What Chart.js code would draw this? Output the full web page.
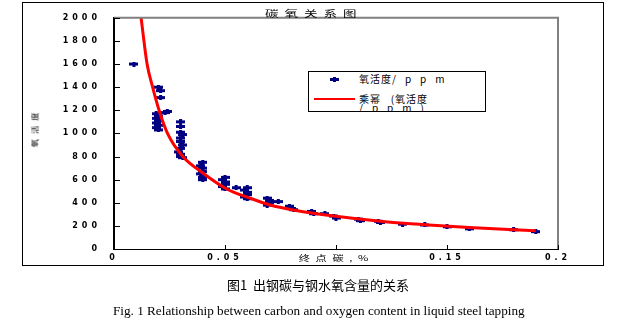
<!DOCTYPE html>
<html>
<head>
<meta charset="utf-8">
<script src="https://cdn.jsdelivr.net/npm/chart.js@4/dist/chart.umd.min.js"></script>
<style>
  html, body { margin: 0; padding: 0; background: #fff; }
  body { width: 642px; height: 321px; position: relative; overflow: hidden; }
  #frame { position: absolute; left: 22px; top: 2px; width: 580px; height: 262px; border: 1px solid #000; }
  #chart { position: absolute; left: 0; top: 0; }
  .txt { position: absolute; white-space: pre; color: #000; font-family: "Noto Sans CJK SC", sans-serif; line-height: 1; }
  #title { left: 265px; top: 9px; font-size: 9px; letter-spacing: 4px; transform: scaleX(1.5); transform-origin: left center; }
  #xtitle { left: 296px; top: 253px; padding: 1px 2px; background: #fff; font-size: 8px; letter-spacing: 4px; transform: scaleX(1.4); transform-origin: left center; }
  #ytitle { left: 17px; top: 124px; font-size: 7px; letter-spacing: 4px; transform: rotate(-90deg) scaleX(1.2); transform-origin: center center; width: 36px; text-align: center; }
  #legend { position: absolute; left: 308px; top: 71px; width: 176px; height: 39px; border: 1px solid #000; background: #fff; overflow: hidden; }
  #legend .lt { position: absolute; font-family: "Noto Sans CJK SC", sans-serif; font-size: 10px; line-height: 1; white-space: pre; }
  .lat { letter-spacing: 9px; }
  .cjk { letter-spacing: 1px; }
  #cap1 { left: 227px; top: 278px; font-size: 13px; }
  #cap2 { left: 113px; top: 304px; font-size: 13.2px; font-family: "Liberation Serif", "Times New Roman", serif; }
</style>
</head>
<body>
<div id="frame"></div>
<canvas id="chart" width="642" height="321"></canvas>
<div class="txt" id="title">碳氧关系图</div>
<div class="txt" id="xtitle">终点碳,%</div>
<div class="txt" id="ytitle">氧活度</div>
<div id="legend">
  <div style="position:absolute;left:21px;top:6px;width:9px;height:3px;background:#000080"></div>
  <div style="position:absolute;left:24px;top:5px;width:3px;height:5px;background:#000080"></div>
  <div class="lt" style="left:50px;top:2px"><span class="cjk">氧活度</span><span class="lat">/ppm</span></div>
  <div style="position:absolute;left:5px;top:26px;width:41px;height:2px;background:#ff0000"></div>
  <div class="lt" style="left:50px;top:22px"><span class="cjk">乘幂   (氧活度</span></div>
  <div class="lt" style="left:50px;top:31px"><span class="lat">/ppm)</span></div>
</div>
<div class="txt" id="cap1">图1  出钢碳与钢水氧含量的关系</div>
<div class="txt" id="cap2">Fig. 1 Relationship between carbon and oxygen content in liquid steel tapping</div>
<script>
// 终点碳 (%) 与 氧活度 (ppm) 的实测点
const sampleCarbon = [
    0.009,
    0.020, 0.021, 0.021, 0.019, 0.020, 0.019, 0.020, 0.019, 0.020, 0.019, 0.020,
    0.024, 0.023,
    0.030, 0.030, 0.030, 0.031, 0.030, 0.030, 0.031, 0.030, 0.029, 0.030, 0.030, 0.031,
    0.040, 0.039, 0.040, 0.040, 0.039, 0.040, 0.040,
    0.050, 0.049, 0.050, 0.050, 0.049, 0.050,
    0.055,
    0.060, 0.059, 0.060, 0.060, 0.059, 0.060,
    0.069, 0.070, 0.070, 0.069,
    0.074,
    0.079, 0.080, 0.081,
    0.089, 0.090,
    0.095,
    0.099, 0.100,
    0.110, 0.111,
    0.119, 0.120,
    0.130, 0.140, 0.150, 0.160, 0.180, 0.190
];
const sampleOxygen = [
    1600,
    1400, 1370, 1310, 1170, 1150, 1130, 1110, 1090, 1070, 1050, 1030,
    1190, 1180,
    1100, 1060, 1010, 990, 960, 930, 900, 870, 840, 820, 800, 790,
    750, 720, 700, 670, 650, 620, 600,
    620, 600, 580, 560, 540, 520,
    530,
    530, 510, 490, 470, 450, 435,
    440, 420, 400, 380,
    410,
    370, 350, 340,
    325, 305,
    305,
    285, 268,
    258, 245,
    240, 230,
    215, 208, 192, 175, 167, 150
];

// 乘幂趋势线
const curveCarbon = [0.0122, 0.0149, 0.0174, 0.0203, 0.0241, 0.031, 0.040, 0.051, 0.061, 0.070, 0.082, 0.100, 0.120, 0.140, 0.160, 0.190];
const curveOxygen = [2000, 1600, 1400, 1200, 1000, 800, 658, 517, 442, 383, 333, 283, 240, 210, 185, 158];

const xTickStep = 0.05;
const yTickStep = 200;

const navy = '#000080';
const red = '#ff0000';

// 星形标记
const marker = document.createElement('canvas');
marker.width = 9;
marker.height = 5;
const mctx = marker.getContext('2d');
mctx.fillStyle = navy;
mctx.fillRect(0, 1, 9, 3);
mctx.fillRect(3, 0, 3, 5);

const decor = {
    id: 'decor',
    beforeLayout(chart) { chart.ctx.letterSpacing = '4px'; },
    beforeDraw(chart) { chart.ctx.letterSpacing = '4px'; },
    afterDraw(chart) {
        const ctx = chart.ctx;
        const a = chart.chartArea;
        const xs = chart.scales.x, ys = chart.scales.y;
        ctx.save();
        // 顶部和右侧灰线
        ctx.strokeStyle = '#808080';
        ctx.lineWidth = 2;
        ctx.beginPath();
        ctx.moveTo(a.left, a.top);
        ctx.lineTo(a.right, a.top);
        ctx.lineTo(a.right, a.bottom);
        ctx.stroke();
        // 内向刻度
        ctx.strokeStyle = '#000';
        ctx.lineWidth = 1;
        ys.ticks.forEach(t => {
            const y = Math.round(ys.getPixelForValue(t.value)) + 0.5;
            ctx.beginPath();
            ctx.moveTo(a.left, y);
            ctx.lineTo(a.left + 6, y);
            ctx.stroke();
        });
        xs.ticks.forEach(t => {
            const x = Math.round(xs.getPixelForValue(t.value)) + 0.5;
            ctx.beginPath();
            ctx.moveTo(x, a.bottom);
            ctx.lineTo(x, a.bottom - 4);
            ctx.stroke();
        });
        ctx.restore();
    }
};

new Chart(document.getElementById('chart'), {
    type: 'scatter',
    data: {
        datasets: [{
            label: '乘幂 (氧活度/ppm)',
            data: curveCarbon.map((c, i) => ({ x: c, y: curveOxygen[i] })),
            showLine: true,
            borderColor: red,
            borderWidth: 3,
            pointRadius: 0,
            cubicInterpolationMode: 'monotone',
            order: 0
        }, {
            label: '氧活度/ppm',
            data: sampleCarbon.map((c, i) => ({ x: c, y: sampleOxygen[i] })),
            pointStyle: marker,
            pointRadius: 4,
            backgroundColor: navy,
            borderColor: navy,
            order: 1
        }]
    },
    options: {
        responsive: false,
        devicePixelRatio: 1,
        animation: false,
        layout: { padding: { left: 0, right: 84, top: 9, bottom: 56 } },
        plugins: { legend: { display: false }, tooltip: { enabled: false } },
        scales: {
            x: {
                type: 'linear', min: 0, max: 0.2,
                ticks: {
                    stepSize: xTickStep, color: '#000', padding: 4, maxRotation: 0,
                    font: { family: 'DejaVu Sans', size: 8, weight: 'bold' },
                    callback: v => String(Number(v.toFixed(2)))
                },
                grid: { display: false, drawTicks: false },
                border: { color: '#000', width: 1 },
                afterFit(s) { s.height = 16; }
            },
            y: {
                type: 'linear', min: 0, max: 2000,
                ticks: {
                    stepSize: yTickStep, color: '#000', padding: 13,
                    font: { family: 'DejaVu Sans', size: 8, weight: 'bold' },
                    callback: v => String(v)
                },
                grid: { display: false, drawTicks: false },
                border: { color: '#000', width: 2 },
                afterFit(s) { s.width = 114; }
            }
        }
    },
    plugins: [decor]
});
</script>
</body>
</html>
